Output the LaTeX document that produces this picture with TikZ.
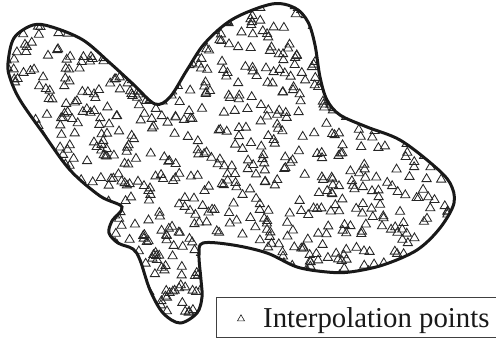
\documentclass[tikz,border=0pt]{standalone}
\usepackage{fontspec}
\setmainfont{Liberation Serif}
\begin{document}
\begin{tikzpicture}[x=1pt,y=-1pt,
  tri/.style={draw=black!85,line width=0.85pt,line join=miter},
  outline/.style={draw=black!90,line width=3pt},
  legendbox/.style={draw=black!75,line width=1pt,fill=white},
  legendtext/.style={inner sep=0pt,anchor=base west,font=\fontsize{28.8}{30}\selectfont,text=black!90}]
\useasboundingbox (0,0) rectangle (496,338);
\begin{scope}
\clip plot[smooth cycle,tension=0.55] coordinates {
 (8,63) (14,38) (33,25) (52,27) (83,40) (110,63) (133,84) (155,104) (170,97) (187,70) (205,43) (233,19) (272,4) (295,8) (308,22) (315,45) (320,77) (327,100) (340,115) (367,127) (400,140) (433,165) (450,183) (454,203) (440,228) (417,250) (383,265) (350,272) (327,272) (297,267) (267,253) (233,245) (203,243) (199,255) (201,280) (202,297) (197,313) (180,323) (163,313) (150,290) (140,260) (133,249) (118,243) (109,233) (112,221) (122,207) (100,196) (70,170) (43,133) (20,100) (10,78)};
\pgfmathsetseed{2718}
\foreach \i in {1,...,1100}{
  \pgfmathsetmacro\px{6+452*rnd}
  \pgfmathsetmacro\py{2+326*rnd}
  \draw[tri] (\px,\py) ++(-4.6,3.6) -- ++(9.2,0) -- ++(-4.6,-7.8) -- cycle;
}
\end{scope}
\draw[outline] plot[smooth cycle,tension=0.55] coordinates {
 (8,63) (14,38) (33,25) (52,27) (83,40) (110,63) (133,84) (155,104) (170,97) (187,70) (205,43) (233,19) (272,4) (295,8) (308,22) (315,45) (320,77) (327,100) (340,115) (367,127) (400,140) (433,165) (450,183) (454,203) (440,228) (417,250) (383,265) (350,272) (327,272) (297,267) (267,253) (233,245) (203,243) (199,255) (201,280) (202,297) (197,313) (180,323) (163,313) (150,290) (140,260) (133,249) (118,243) (109,233) (112,221) (122,207) (100,196) (70,170) (43,133) (20,100) (10,78)};
\draw[legendbox] (216,297) rectangle (497,337.5);
\coordinate (mk) at (241,318);
\draw[tri,line width=0.6pt] (mk) ++(-3.5,2.8) -- ++(7,0) -- ++(-3.5,-6) -- cycle;
\node[legendtext] (lbl) at (263,327) {Interpolation points};
\end{tikzpicture}
\end{document}
